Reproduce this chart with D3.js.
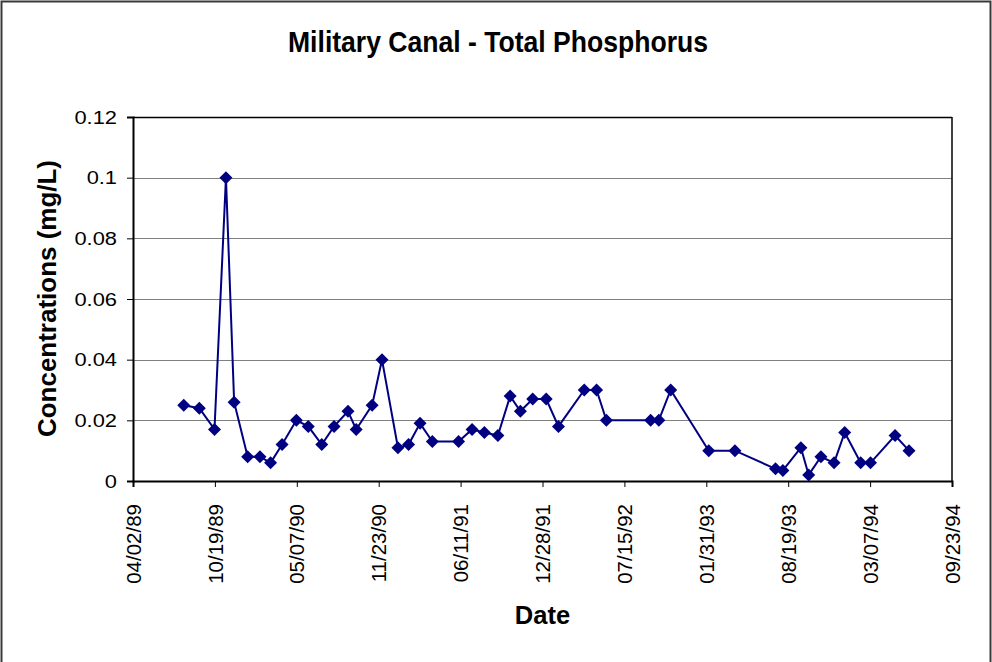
<!DOCTYPE html>
<html>
<head>
<meta charset="utf-8">
<script src="https://cdn.jsdelivr.net/npm/d3@7"></script>
<style>
  html, body { margin: 0; padding: 0; background: #fff; }
  svg { display: block; }
  text { font-family: "Liberation Sans", Arial, sans-serif; }
</style>
</head>
<body>
<svg id="chart" width="992" height="662"></svg>
<script>
const title = "Military Canal - Total Phosphorus";
const xTitle = "Date";
const yTitle = "Concentrations (mg/L)";

const dates = [
  "1989-08-04","1989-09-11","1989-10-18","1989-11-15","1989-12-05",
  "1990-01-07","1990-02-06","1990-03-04","1990-04-01","1990-05-06",
  "1990-06-04","1990-07-07","1990-08-06","1990-09-09","1990-09-29",
  "1990-11-07","1990-12-01","1991-01-09","1991-02-04","1991-03-04",
  "1991-04-03","1991-06-06","1991-07-09","1991-08-08","1991-09-10",
  "1991-10-10","1991-11-04","1991-12-04","1992-01-06","1992-02-05",
  "1992-04-08","1992-05-08","1992-06-01","1992-09-17","1992-10-07",
  "1992-11-05","1993-02-06","1993-04-11","1993-07-19","1993-08-06",
  "1993-09-19","1993-10-08","1993-11-07","1993-12-09","1994-01-04",
  "1994-02-12","1994-03-08","1994-05-07","1994-06-10"
];
const values = [
  0.025, 0.024, 0.017, 0.100, 0.026,
  0.008, 0.008, 0.006, 0.012, 0.020,
  0.018, 0.012, 0.018, 0.023, 0.017,
  0.025, 0.040, 0.011, 0.012, 0.019,
  0.013, 0.013, 0.017, 0.016, 0.015,
  0.028, 0.023, 0.027, 0.027, 0.018,
  0.030, 0.030, 0.020, 0.020, 0.020,
  0.030, 0.010, 0.010, 0.004, 0.0035,
  0.011, 0.002, 0.008, 0.006, 0.016,
  0.006, 0.006, 0.015, 0.010
];
const xTickLabels = ["04/02/89","10/19/89","05/07/90","11/23/90","06/11/91","12/28/91",
                     "07/15/92","01/31/93","08/19/93","03/07/94","09/23/94"];
const yTickValues = [0, 0.02, 0.04, 0.06, 0.08, 0.1, 0.12];

const parseIso = d3.utcParse("%Y-%m-%d");
const parseTick = d3.utcParse("%m/%d/%y");
const fmtTick = d3.utcFormat("%m/%d/%y");
const xTicks = xTickLabels.map(parseTick);
const data = dates.map((d, i) => ({ date: parseIso(d), value: values[i] }));

const svg = d3.select("#chart");
const pLeft = 133, pRight = 952, pTop = 117, pBottom = 481;

const x = d3.scaleUtc().domain([xTicks[0], xTicks[xTicks.length - 1]]).range([pLeft, pRight]);
const y = d3.scaleLinear().domain([0, 0.12]).range([pBottom, pTop]);

// outer frame
svg.append("rect").attr("x", 1.5).attr("y", 1.5).attr("width", 989).attr("height", 700)
  .attr("fill", "#fff").attr("stroke", "#3a3a3a").attr("stroke-width", 2);

// title
svg.append("text").attr("x", 498).attr("y", 52).attr("text-anchor", "middle")
  .attr("font-size", 29.5).attr("font-weight", "bold")
  .attr("textLength", 420).attr("lengthAdjust", "spacingAndGlyphs").text(title);

// gridlines
svg.append("g").selectAll("line").data(yTickValues.filter(v => v > 0)).join("line")
  .attr("x1", pLeft).attr("x2", pRight)
  .attr("y1", d => Math.round(y(d)) + 0.5).attr("y2", d => Math.round(y(d)) + 0.5)
  .attr("stroke", d => d === 0.12 ? "#000" : "#808080").attr("stroke-width", d => d === 0.12 ? 1.5 : 1);

// right border
svg.append("line").attr("x1", pRight).attr("x2", pRight).attr("y1", pTop).attr("y2", pBottom)
  .attr("stroke", "#000").attr("stroke-width", 1.5);

// y axis
const yAxis = d3.axisLeft(y).tickValues(yTickValues).tickSize(6).tickPadding(10)
  .tickFormat(d => String(+d.toFixed(2)));
const gy = svg.append("g").attr("transform", `translate(${pLeft},0)`).call(yAxis);
gy.select(".domain").attr("stroke", "#000").attr("stroke-width", 2);
gy.selectAll(".tick line").attr("stroke", "#000");
gy.selectAll(".tick text").attr("font-size", 19).attr("fill", "#000")
  .attr("font-family", "'Liberation Sans', Arial, sans-serif")
  .each(function () {
    const w = this.getComputedTextLength();
    d3.select(this).attr("textLength", w * 1.15).attr("lengthAdjust", "spacingAndGlyphs");
  });

// x axis
const xAxis = d3.axisBottom(x).tickValues(xTicks).tickSize(6).tickFormat(fmtTick);
const gx = svg.append("g").attr("transform", `translate(0,${pBottom})`).call(xAxis);
gx.select(".domain").attr("stroke", "#000").attr("stroke-width", 2);
gx.selectAll(".tick line").attr("stroke", "#000");
gx.selectAll(".tick text").attr("font-size", 20.5).attr("fill", "#000")
  .attr("font-family", "'Liberation Sans', Arial, sans-serif")
  .attr("transform", "rotate(-90)")
  .attr("text-anchor", "end")
  .attr("x", -23).attr("y", 0).attr("dy", "0.35em");

// axis titles
svg.append("text").attr("x", (pLeft + pRight) / 2).attr("y", 624).attr("text-anchor", "middle")
  .attr("font-size", 25.5).attr("font-weight", "bold").text(xTitle);
svg.append("text").attr("transform", `translate(55.5,298.5) rotate(-90)`)
  .attr("text-anchor", "middle").attr("font-size", 25.5).attr("font-weight", "bold")
  .attr("textLength", 277).attr("lengthAdjust", "spacingAndGlyphs").text(yTitle);

// line
const line = d3.line().x(d => x(d.date)).y(d => y(d.value));
svg.append("path").datum(data).attr("d", line).attr("fill", "none")
  .attr("stroke", "#000080").attr("stroke-width", 2);

// markers
const r = 6.5;
svg.append("g").selectAll("path").data(data).join("path")
  .attr("transform", d => `translate(${x(d.date)},${y(d.value)})`)
  .attr("d", `M0,${-r}L${r},0L0,${r}L${-r},0Z`)
  .attr("fill", "#000080");
</script>
</body>
</html>
